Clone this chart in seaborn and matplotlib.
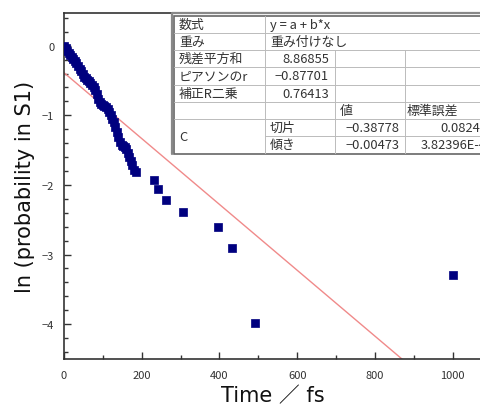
import matplotlib
matplotlib.use("Agg")
import matplotlib.pyplot as plt
import seaborn as sns
import numpy as np
import pandas as pd

# ---- data ----
time_fs = [0, 4, 8, 12, 16, 20, 24, 28, 32, 36, 40, 44, 48, 52, 56, 60, 64, 68,
           72, 76, 80, 84, 88, 92, 96, 100, 104, 108, 112, 116, 120, 124, 128,
           132, 136, 140, 144, 148, 152, 156, 160, 164, 168, 172, 176, 180, 184,
           232, 243, 263, 305, 397, 431, 491, 1000]
ln_prob = [0.0, -0.03, -0.07, -0.10, -0.13, -0.16, -0.19, -0.22, -0.25, -0.29,
           -0.33, -0.37, -0.41, -0.45, -0.47, -0.49, -0.51, -0.53, -0.56, -0.60,
           -0.64, -0.70, -0.77, -0.81, -0.83, -0.85, -0.86, -0.88, -0.91, -0.95,
           -1.00, -1.05, -1.10, -1.17, -1.24, -1.31, -1.38, -1.42, -1.44, -1.46,
           -1.49, -1.54, -1.60, -1.66, -1.72, -1.78, -1.81,
           -1.93, -2.06, -2.22, -2.39, -2.61, -2.91, -3.99, -3.30]
intercept = -0.38778
slope = -0.00473

x_ticks = [0, 200, 400, 600, 800, 1000]
y_ticks = [0, -1, -2, -3, -4]

table_rows = [
    ["数式", "y = a + b*x"],
    ["重み", "重み付けなし"],
    ["残差平方和", "8.86855"],
    ["ピアソンのr", "\u22120.87701"],
    ["補正R二乗", "0.76413"],
]
table_head = ["値", "標準誤差"]
table_param_group = "C"
table_params = [["切片", "\u22120.38778", "0.08242"],
                ["傾き", "\u22120.00473", "3.82396E-4"]]

# ---- style ----
sns.set_theme(style="ticks")
plt.rcParams["font.family"] = ["Noto Sans CJK JP", "DejaVu Sans"]
label_family = ["DejaVu Sans", "Noto Sans CJK JP"]

W, H = 481, 410
fig = plt.figure(figsize=(W / 100, H / 100), dpi=100)
fig.patch.set_facecolor("white")

L, B, T = 64, 360, 14
R = 481
ax = fig.add_axes([L / W, 1 - B / H, (R - L) / W, (B - T) / H])
ax.set_facecolor("white")

df = pd.DataFrame({"t": time_fs, "y": ln_prob})
sns.scatterplot(data=df, x="t", y="y", ax=ax, marker="s", s=32,
                color="#00007f", edgecolor="#00007f", linewidth=0.5, zorder=3)

xmax = (R - L) / 0.3887
fit = pd.DataFrame({"t": [0, xmax]})
fit["y"] = intercept + slope * fit["t"]
sns.lineplot(data=fit, x="t", y="y", ax=ax, color="#f08a8a", linewidth=1.0, zorder=2)

ax.set_xlim(0, xmax)
ax.set_ylim(-4.5, 0.47)
ax.set_xticks(x_ticks)
ax.set_yticks(y_ticks)
ax.set_xticklabels([str(v) for v in x_ticks])
ax.set_yticklabels([("\u2212" + str(-v)) if v < 0 else str(v) for v in y_ticks])
ax.set_xticks(np.arange(100, 1100, 200), minor=True)
ax.set_yticks(np.arange(-4.4, 0.45, 0.2), minor=True)
ax.tick_params(which="both", direction="in", color="#333333")
ax.tick_params(which="major", length=5, width=1.0, labelsize=8, labelcolor="#333333", pad=8)
ax.tick_params(axis="y", which="major", pad=7)
ax.tick_params(which="minor", length=3, width=1.0)
for side in ["left", "bottom", "top"]:
    ax.spines[side].set_color("#333333")
    ax.spines[side].set_linewidth(1.2)
    ax.spines[side].set_visible(True)
ax.spines["right"].set_visible(False)
ax.set_xlabel("Time ／ fs", fontsize=15, labelpad=0, color="#111111", family=label_family)
ax.set_ylabel("ln (probability in S1)", fontsize=15, color="#111111", family=label_family)
ax.yaxis.set_label_coords(-0.07, 0.5)
ax.xaxis.set_label_coords(0.5, -0.075)

# ---- table ----
tx0, ty0, tx1, ty1 = 174, 16.5, 505, 154.5
tab = fig.add_axes([tx0 / W, 1 - ty1 / H, (tx1 - tx0) / W, (ty1 - ty0) / H])
tab.set_xlim(tx0, tx1)
tab.set_ylim(ty1, ty0)
tab.axis("off")
tab.add_patch(plt.Rectangle((tx0, ty0), tx1 - tx0, ty1 - ty0, facecolor="white",
                            edgecolor="#666666", linewidth=1.2, zorder=1, clip_on=False))
tab.plot([tx0 - 2.5, tx0 - 2.5, tx1], [ty1, ty0 - 2.5, ty0 - 2.5], color="#888888",
         linewidth=1.6, clip_on=False)
cols = [174, 265, 335, 405, 505]
rh = (ty1 - ty0) / 8
rows_y = [ty0 + i * rh for i in range(9)]
lc = "#bbbbbb"
lw = 0.7
for i in range(1, 8):
    x_start = cols[1] if i == 7 else cols[0]
    tab.plot([x_start, tx1], [rows_y[i]] * 2, color=lc, linewidth=lw)
tab.plot([cols[1]] * 2, [ty0, ty1], color=lc, linewidth=lw)
for c in cols[2:4]:
    tab.plot([c, c], [rows_y[2], ty1], color=lc, linewidth=lw)
fs = 9.3
tc = "#333333"
for i, row in enumerate(table_rows):
    yc = rows_y[i] + rh / 2
    tab.text(cols[0] + 5, yc, row[0], fontsize=fs, va="center", ha="left", color=tc)
    if i < 2:
        tab.text(cols[1] + 5, yc, row[1], fontsize=fs, va="center", ha="left", color=tc)
    else:
        tab.text(cols[2] - 6, yc, row[1], fontsize=fs, va="center", ha="right", color=tc)
yc = rows_y[5] + rh / 2
tab.text(cols[2] + 5, yc, table_head[0], fontsize=fs, va="center", ha="left", color=tc)
tab.text(cols[3] + 2, yc, table_head[1], fontsize=fs, va="center", ha="left", color=tc)
tab.text(cols[0] + 5, rows_y[7], table_param_group, fontsize=fs, va="center", ha="left", color=tc)
for j, prow in enumerate(table_params):
    yc = rows_y[6 + j] + rh / 2
    tab.text(cols[1] + 5, yc, prow[0], fontsize=fs, va="center", ha="left", color=tc)
    tab.text(cols[3] - 5, yc, prow[1], fontsize=fs, va="center", ha="right", color=tc)
    tab.text(cols[3] + 82, yc, prow[2], fontsize=fs, va="center", ha="right", color=tc)

fig.savefig("out.png", dpi=100, facecolor="white")
